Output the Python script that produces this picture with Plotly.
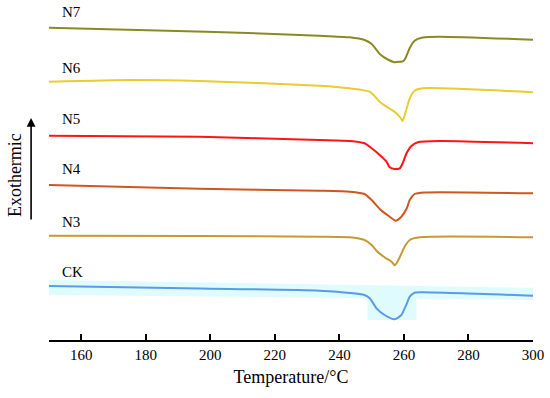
import plotly.graph_objects as go

# Temperature (°C) and heat flow (a.u., offset curves)
n7_t = [150, 198.8, 233.8, 243.2, 247.8, 250.0, 252.5, 255.0, 257.1, 258.7, 259.8, 260.5, 261.8, 263.3, 265.8, 271.1, 300]
n7_v = [31.23, 30.83, 30.43, 30.27, 30.0, 29.6, 28.6, 28.05, 27.78, 27.82, 27.88, 28.2, 29.2, 29.93, 30.25, 30.33, 30.03]

n6_t = [150, 175.9, 196.7, 233.8, 243.2, 249.4, 252.5, 254.6, 257.1, 259.0, 259.6, 260.7, 261.8, 263.3, 265.8, 300]
n6_v = [25.83, 26.0, 25.9, 25.43, 25.17, 24.83, 23.83, 23.33, 22.83, 22.2, 21.9, 23.0, 24.17, 24.93, 25.17, 24.77]

n5_t = [150, 196.7, 233.8, 243.2, 247.8, 250.0, 252.5, 254.6, 255.6, 257.1, 258.7, 259.6, 260.8, 262.4, 264.3, 271.1, 300]
n5_v = [20.43, 20.33, 20.0, 19.9, 19.67, 19.17, 18.5, 17.83, 17.27, 17.1, 17.17, 17.67, 18.67, 19.43, 19.77, 19.9, 19.67]

n4_t = [150, 196.7, 233.8, 243.2, 247.8, 250.0, 252.8, 255.6, 257.4, 259.2, 260.9, 261.8, 263.3, 266.4, 300]
n4_v = [15.5, 15.13, 14.93, 14.83, 14.6, 14.0, 13.0, 12.33, 11.93, 12.33, 13.17, 14.0, 14.6, 14.75, 14.67]

n3_t = [150, 196.7, 233.8, 243.2, 247.8, 250.0, 251.8, 254.0, 256.2, 257.1, 257.7, 258.7, 260.2, 261.8, 264.9, 300]
n3_v = [10.43, 10.4, 10.33, 10.27, 10.0, 9.5, 8.83, 8.27, 7.83, 7.47, 7.67, 8.27, 9.33, 10.0, 10.27, 10.27]

ck_t = [150, 196.7, 233.8, 247.8, 249.4, 251.5, 254.0, 257.1, 259.2, 260.7, 261.8, 263.3, 265.8, 300]
ck_v = [5.4, 5.15, 4.93, 4.5, 4.17, 3.17, 2.5, 2.07, 2.5, 3.5, 4.33, 4.73, 4.77, 4.43]

names = ["N7", "N6", "N5", "N4", "N3", "CK"]
label_y = [32.8, 27.2, 22.1, 17.1, 11.8, 6.8]
colors = ["#8a8a22", "#e8cc30", "#ff1414", "#d0561e", "#c49a34", "#5a9ae6"]
series = [(n7_t, n7_v), (n6_t, n6_v), (n5_t, n5_v), (n4_t, n4_v), (n3_t, n3_v), (ck_t, ck_v)]

x_ticks = [160, 180, 200, 220, 240, 260, 280, 300]

font_family = "Liberation Serif, Times New Roman, serif"

fig = go.Figure()
for name, (t, v), c in zip(names, series, colors):
    fig.add_trace(go.Scatter(x=t, y=v, mode="lines", name=name,
                             line=dict(color=c, width=2, shape="spline", smoothing=0.6),
                             showlegend=False))

annotations = []
for name, ly in zip(names, label_y):
    annotations.append(dict(x=153.5, y=ly, xref="x", yref="y", text=name, showarrow=False,
                            xanchor="left", yanchor="middle",
                            font=dict(family=font_family, size=15, color="black")))

# Exothermic arrow (plot area height 340 px)
annotations.append(dict(x=-0.037, y=(340 - 118) / 340, xref="paper", yref="paper", text="",
                        showarrow=True, ax=0, ay=103, axref="pixel", ayref="pixel",
                        arrowhead=2, arrowsize=1.1, arrowwidth=1.6, arrowcolor="black"))
annotations.append(dict(x=-0.070, y=(340 - 175) / 340, xref="paper", yref="paper", text="Exothermic",
                        showarrow=False, textangle=-90, xanchor="center", yanchor="middle",
                        font=dict(family=font_family, size=18, color="black")))

shapes = [
    dict(type="path", xref="x", yref="y", layer="below",
         path="M 150,6.0 L 303,5.2 L 303,4.0 L 150,4.5 Z",
         fillcolor="#e0fbfd", line=dict(width=0)),
    dict(type="rect", xref="x", yref="y", layer="below",
         x0=248.7, x1=263.9, y0=2.0, y1=5.2,
         fillcolor="#e0fbfd", line=dict(width=0)),
]

fig.update_layout(
    width=550, height=398,
    margin=dict(l=49, r=17, t=0, b=58),
    paper_bgcolor="white", plot_bgcolor="white",
    font=dict(family=font_family, size=14, color="black"),
    annotations=annotations, shapes=shapes,
    xaxis=dict(range=[150, 300], tickvals=x_ticks, ticks="inside", ticklen=6,
               tickwidth=1.5, tickcolor="black", showline=True, linecolor="black",
               linewidth=1.8, showgrid=False, zeroline=False,
               tickfont=dict(family=font_family, size=15),
               title=dict(text="Temperature/°C", standoff=8,
                          font=dict(family=font_family, size=18))),
    yaxis=dict(range=[0, 34], visible=False, showgrid=False, zeroline=False),
)

fig.write_html("out.html", config={"displayModeBar": False},
               post_script="document.body.style.margin='0';document.body.style.overflow='hidden';")
